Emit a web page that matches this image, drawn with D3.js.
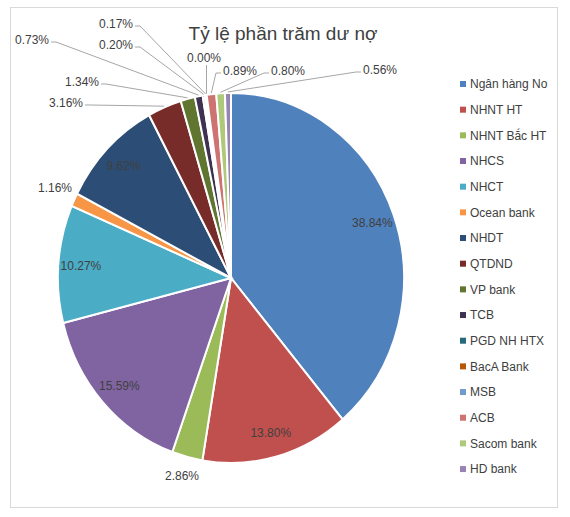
<!DOCTYPE html>
<html lang="vi">
  <head>
    <meta charset="UTF-8" />
    <title>Tỷ lệ phần trăm dư nợ</title>
    <style>
      body {
        margin: 0;
        background: #fff;
      }
      text {
        font-family: "Liberation Sans", Arial, sans-serif;
        fill: #404040;
      }
    </style>
  </head>
  <body>
    <script src="https://cdn.jsdelivr.net/npm/d3@7"></script>
    <script>
      // Données
      const banques = [
        "Ngân hàng No",
        "NHNT HT",
        "NHNT Bắc HT",
        "NHCS",
        "NHCT",
        "Ocean bank",
        "NHDT",
        "QTDND",
        "VP bank",
        "TCB",
        "PGD NH HTX",
        "BacA Bank",
        "MSB",
        "ACB",
        "Sacom bank",
        "HD bank",
      ];
      const pourcentages = [
        38.84, 13.8, 2.86, 15.59, 10.27, 1.16, 9.62, 3.16, 1.34, 0.73, 0.2,
        0.17, 0.0, 0.89, 0.8, 0.56,
      ];
      const couleurs = [
        "#4f81bd", "#c0504d", "#9bbb59", "#8064a2", "#4bacc6", "#f79646",
        "#2c4d75", "#772c2a", "#5f7530", "#3f3151", "#276a7c", "#b65708",
        "#729aca", "#cd7371", "#afc97a", "#9983b5",
      ];
      const titre = "Tỷ lệ phần trăm dư nợ";

      // Placement des étiquettes extérieures (comme dans Excel)
      const etiquettes_ext = {
        "NHNT Bắc HT": { x: 182, y: 476, lien: "none" },
        "Ocean bank": { x: 55, y: 188, lien: "none" },
        QTDND: { x: 66, y: 103, lien: "right" },
        "VP bank": { x: 82, y: 82, lien: "right" },
        TCB: { x: 32, y: 40, lien: "right" },
        "PGD NH HTX": { x: 116, y: 45, lien: "right" },
        "BacA Bank": { x: 116, y: 24, lien: "right" },
        MSB: { x: 204, y: 58, lien: "bottom" },
        ACB: { x: 240, y: 71, lien: "left" },
        "Sacom bank": { x: 288, y: 71, lien: "left" },
        "HD bank": { x: 380, y: 70, lien: "left" },
      };

      const largeur = 570;
      const hauteur = 517;
      const cx = 231;
      const cy = 278;
      const rx = 173;
      const ry = 185;

      const donnees = banques.map((b, i) => ({
        nom: b,
        valeur: pourcentages[i],
        couleur: couleurs[i],
      }));

      const svg = d3
        .select("body")
        .append("svg")
        .attr("width", largeur)
        .attr("height", hauteur);

      // cadre du graphique
      svg
        .append("rect")
        .attr("x", 10.5)
        .attr("y", 7.5)
        .attr("width", 547)
        .attr("height", 500)
        .attr("fill", "#fff")
        .attr("stroke", "#d9d9d9");

      svg
        .append("text")
        .attr("x", 283)
        .attr("y", 40)
        .attr("text-anchor", "middle")
        .style("font-size", "19px")
        .text(titre);

      const pie = d3
        .pie()
        .sort(null)
        .value((d) => d.valeur);
      const arcs = pie(donnees);

      const generateur_d_arc = d3.arc().innerRadius(0).outerRadius(rx);

      const camembert = svg
        .append("g")
        .attr("transform", `translate(${cx},${cy}) scale(1,${ry / rx})`);

      camembert
        .selectAll("path")
        .data(arcs)
        .enter()
        .append("path")
        .attr("d", generateur_d_arc)
        .attr("fill", (d) => d.data.couleur)
        .attr("stroke", "#fff")
        .attr("stroke-width", 2)
        .attr("vector-effect", "non-scaling-stroke");

      function pointSurBord(d, r) {
        const a = (d.startAngle + d.endAngle) / 2;
        return [cx + r * Math.sin(a), cy - (r * ry) / rx * Math.cos(a)];
      }

      const texte = (d) => d.data.valeur.toFixed(2) + "%";

      // étiquettes intérieures
      arcs
        .filter((d) => !etiquettes_ext[d.data.nom])
        .forEach((d) => {
          const [x, y] = pointSurBord(d, rx * 0.87);
          svg
            .append("text")
            .attr("x", x)
            .attr("y", y)
            .attr("dy", "0.35em")
            .attr("text-anchor", "middle")
            .style("font-size", "12px")
            .text(texte(d));
        });

      // étiquettes extérieures + lignes de rappel
      const lignes = svg.append("g");
      arcs
        .filter((d) => etiquettes_ext[d.data.nom])
        .forEach((d) => {
          const e = etiquettes_ext[d.data.nom];
          const t = svg
            .append("text")
            .attr("x", e.x)
            .attr("y", e.y)
            .attr("dy", "0.35em")
            .attr("text-anchor", "middle")
            .style("font-size", "12px")
            .text(texte(d));
          if (e.lien === "none") return;
          const w = t.node().getComputedTextLength();
          const fin = pointSurBord(d, rx + 1);
          let pts;
          if (e.lien === "right") {
            const x0 = e.x + w / 2 + 2;
            pts = [[x0, e.y + 2], [x0 + 5, e.y + 2], fin];
          } else if (e.lien === "left") {
            const x0 = e.x - w / 2 - 2;
            pts = [[x0, e.y + 2], [x0 - 5, e.y + 2], fin];
          } else {
            pts = [[fin[0], e.y + 7], fin];
          }
          lignes
            .append("path")
            .attr("d", d3.line()(pts))
            .attr("fill", "none")
            .attr("stroke", "#a6a6a6")
            .attr("stroke-width", 1);
        });

      // légende
      const legende = svg
        .append("g")
        .selectAll("g")
        .data(donnees)
        .enter()
        .append("g")
        .attr("transform", (d, i) => `translate(460,${84 + i * 25.67})`);

      legende
        .append("rect")
        .attr("x", 0)
        .attr("y", -3)
        .attr("width", 6)
        .attr("height", 6)
        .attr("fill", (d) => d.couleur);

      legende
        .append("text")
        .attr("x", 10)
        .attr("dy", "0.35em")
        .style("font-size", "12px")
        .text((d) => d.nom);
    </script>
  </body>
</html>
